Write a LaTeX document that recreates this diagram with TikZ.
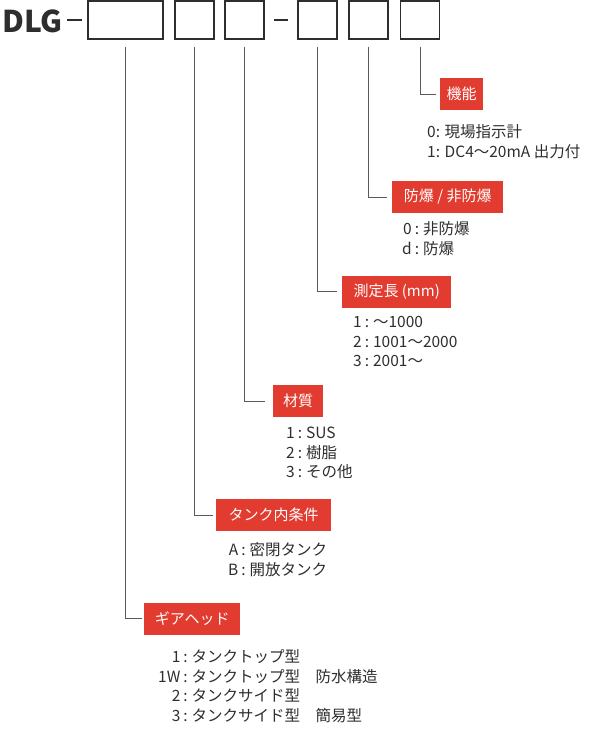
\documentclass[tikz,border=0pt]{standalone}
\usepackage{fontspec}
\usepackage{xcolor}
\setmainfont{Noto Sans CJK JP}
\usetikzlibrary{positioning}
\definecolor{ink}{HTML}{2E2E2E}
\definecolor{tagred}{HTML}{E23B2F}
\definecolor{leadgray}{HTML}{5A5A5A}
\newcommand{\choices}[1]{\begin{tabular}{@{}r@{\hspace{3pt}:\hspace{4pt}}l@{}}#1\end{tabular}}

\tikzset{
  codebox/.style={draw=ink,line width=1.3pt,minimum width=39pt,minimum height=38pt,inner sep=0pt},
  tagbox/.style={fill=tagred,text=white,font=\fontsize{15}{18}\selectfont,minimum height=32pt,inner sep=0pt,anchor=west},
  optlist/.style={text=ink,font=\fontsize{15.5}{19.5}\selectfont,anchor=north west,inner sep=0pt},
  lead/.style={draw=leadgray,line width=0.9pt},
}

\begin{document}
\begin{tikzpicture}[x=1pt,y=-1pt]
  \useasboundingbox (0,0) rectangle (600,742);

  % model code
  \node[font=\fontsize{30}{32}\selectfont\bfseries,text=ink,anchor=west,inner sep=0pt] (dlg) at (2,21) {DLG};
  \node[codebox,minimum width=75pt] (b1) at (125.5,20) {};
  \node[codebox] (b2) at (194.5,20) {};
  \node[codebox] (b3) at (244.5,20) {};
  \node[codebox] (b4) at (317.5,20) {};
  \node[codebox] (b5) at (368.5,20) {};
  \node[codebox] (b6) at (420,20) {};
  \draw[ink,line width=1.3pt] ([xshift=-20pt]b1.west) -- ([xshift=-5pt]b1.west);
  \draw[ink,line width=1.3pt] ([xshift=9pt]b3.east) -- ([xshift=-9pt]b4.west);

  % tags
  \node[tagbox,minimum width=43pt] (t6) at (440,94) {機能};
  \node[tagbox,minimum width=111pt] (t5) at (392,197) {防爆 / 非防爆};
  \node[tagbox,minimum width=109pt] (t4) at (342,291.5) {測定長 (mm)};
  \node[tagbox,minimum width=50pt] (t3) at (273,401) {材質};
  \node[tagbox,minimum width=115pt] (t2) at (216,515) {タンク内条件};
  \node[tagbox,minimum width=96pt] (t1) at (144,618.5) {ギアヘッド};

  \draw[lead] ([yshift=-7pt]b6.south) |- ([xshift=-4pt]t6.west);
  \draw[lead] ([yshift=-7pt]b5.south) |- ([xshift=-5pt]t5.west);
  \draw[lead] ([yshift=-7pt]b4.south) |- ([xshift=-5pt]t4.west);
  \draw[lead] ([yshift=-7pt]b3.south) |- ([xshift=-8pt]t3.west);
  \draw[lead] ([yshift=-7pt]b2.south) |- ([xshift=-3pt]t2.west);
  \draw[lead] ([yshift=-7pt]b1.south) |- ([xshift=-2pt]t1.west);

  % choices
  \node[optlist] (o6) at (427,124) {\begin{tabular}{@{}l@{}}0: 現場指示計\\1: DC4〜20mA 出力付\end{tabular}};
  \node[optlist] (o5) at (402,221) {\choices{0 & 非防爆\\d & 防爆}};
  \node[optlist] (o4) at (353,314) {\choices{1 & 〜1000\\2 & 1001〜2000\\3 & 2001〜}};
  \node[optlist] (o3) at (286,425) {\choices{1 & SUS\\2 & 樹脂\\3 & その他}};
  \node[optlist] (o2) at (228,542) {\choices{A & 密閉タンク\\B & 開放タンク}};
  \node[optlist] (o1) at (158,649) {\choices{1 & タンクトップ型\\1W & タンクトップ型　防水構造\\2 & タンクサイド型\\3 & タンクサイド型　簡易型}};
\end{tikzpicture}
\end{document}
